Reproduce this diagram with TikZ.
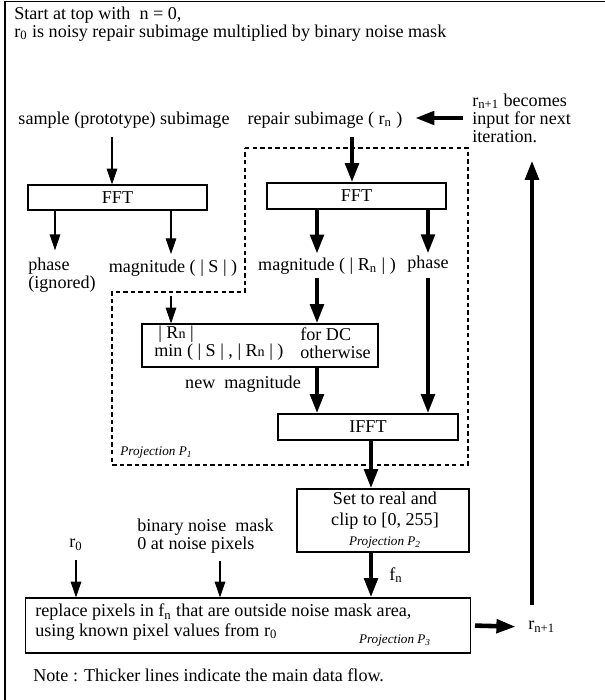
\documentclass[tikz,border=0pt]{standalone}
\usepackage{fontspec}
\setmainfont{Liberation Serif}
\usetikzlibrary{arrows.meta}
\tikzset{
  lbl/.style={inner sep=0pt, font=\fontsize{10.3}{10.3}\selectfont},
  box/.style={draw, line width=0.6pt, inner sep=0pt, font=\fontsize{10.3}{10.3}\selectfont},
  proj/.style={inner sep=0pt, font=\fontsize{7.5}{8}\selectfont\itshape},
  region/.style={line width=0.6pt, dash pattern=on 2.5pt off 1.8pt},
  thinarr/.style={line width=0.6pt, -{Triangle[length=9pt,width=6pt]}},
  thickarr/.style={line width=2.6pt, -{Triangle[length=11pt,width=7.5pt]}},
}
\begin{document}
\begin{tikzpicture}[x=0.02cm, y=-0.02cm]
  \useasboundingbox (0,0) rectangle (605,700);
  \draw[line width=0.8pt] (5,700) -- (5,1.5) -- (605,1.5);

  % columns of the arrows
  \foreach \n/\x in {cA/112,cB/55,cC/171,cE/220,cF/352,cG/317,cH/428,cI/371}
    \coordinate (\n) at (\x,0);
  \coordinate (loop) at (532,605);

  % header
  \node[lbl, anchor=west] (head1) at (14,15) {Start at top with\ \ n = 0,};
  \node[lbl, anchor=west] (head2) at (14,33) {r\textsubscript{0} is noisy repair subimage multiplied by binary noise mask};

  % inputs
  \node[lbl] (sample) at (124,120) {sample (prototype) subimage};
  \node[lbl] (repair) at (325,120) {repair subimage ( r\textsubscript{n} )};
  \node[lbl, anchor=west, align=left] (becomes) at (472,118) {r\textsubscript{n+1} becomes\\input for next\\iteration.};

  % projection P1 region
  \draw[region] (245,148) -- (468,148) -- (468,465) -- (112,465) -- (112,292) -- (245,292) -- cycle;
  \node[proj, anchor=west] (projP1) at (120,453) {Projection P\textsubscript{1}};

  % FFT of sample
  \node[box, minimum width=3.58cm, minimum height=0.5cm] (fftL) at (117.5,197.5) {FFT};
  \node[lbl, anchor=west, align=left, font=\fontsize{10.3}{8}\selectfont] (phaseL) at (28,275) {phase\\(ignored)};
  \node[lbl] (magS) at (173,268) {magnitude ( | S | )};

  % FFT of repair
  \node[box, minimum width=3.58cm, minimum height=0.52cm] (fftR) at (356.5,196) {FFT};
  \node[lbl] (magR) at (327,266) {magnitude ( | R\textsubscript{n} | )};
  \node[lbl] (phaseR) at (428,264) {phase};

  % magnitude rule
  \node[box, minimum width=4.72cm, minimum height=0.86cm] (comb) at (260,345.5) {};
  \node[lbl, anchor=west] (ruleA) at (158,334) {| R{\footnotesize n} |};
  \node[lbl, anchor=west] (ruleB) at (154,352) {min ( | S | , | R{\footnotesize n} | )};
  \node[lbl, anchor=west] (forDC) at (300,334) {for DC};
  \node[lbl, anchor=west] (other) at (300,352) {otherwise};
  \node[lbl] (newmag) at (243,384) {new\ \ magnitude};

  \node[box, minimum width=3.6cm, minimum height=0.52cm] (ifft) at (368,427) {IFFT};

  % projection P2
  \node[box, minimum width=3.44cm, minimum height=1.26cm] (p2) at (383,520.5) {};
  \node[lbl, align=center, font=\fontsize{10.3}{12}\selectfont] (p2txt) at (385,511) {Set to real and\\clip to [0, 255]};
  \node[proj] (projP2) at (385,543) {Projection P\textsubscript{2}};
  \node[lbl, anchor=west] (fn) at (389,575) {f\textsubscript{n}};

  % projection P3
  \node[lbl] (r0) at (76,545) {r\textsubscript{0}};
  \node[lbl, anchor=west, align=left] (mask) at (137,536) {binary noise\ \ mask\\0 at noise pixels};
  \node[box, minimum width=8.92cm, minimum height=1.1cm] (p3) at (248,625.5) {};
  \node[lbl, anchor=west, align=left, font=\fontsize{10.3}{11.3}\selectfont] (p3txt) at (35,622) {replace pixels in f\textsubscript{n} that are outside noise mask area,\\using known pixel values from r\textsubscript{0}};
  \node[proj] (projP3) at (395,641) {Projection P\textsubscript{3}};
  \node[lbl, anchor=west] (rn1) at (528,627) {r\textsubscript{n+1}};

  \node[lbl, anchor=west] (note) at (33,675) {Note : Thicker lines indicate the main data flow.};

  % thin arrows
  \draw[thinarr, shorten <=5pt] (sample.south -| cA) -- (fftL.north -| cA);
  \draw[thinarr, shorten >=4pt] (fftL.south -| cB) -- (phaseL.north -| cB);
  \draw[thinarr, shorten >=3pt] (fftL.south -| cC) -- (magS.north -| cC);
  \draw[thinarr, shorten <=11pt] (magS.south -| cC) -- (comb.north -| cC);
  \draw[thinarr, shorten <=5pt] (r0.south) -- (r0.south |- p3.north);
  \draw[thinarr, shorten <=4pt] (mask.south -| cE) -- (p3.north -| cE);

  % thick arrows (main data flow)
  \draw[thickarr, shorten <=5pt, shorten >=7pt] (becomes.west) -- (becomes.west -| repair.east);
  \draw[thickarr, shorten <=5pt] (repair.south -| cF) -- (fftR.north -| cF);
  \draw[thickarr, shorten >=2pt] (fftR.south -| cG) -- (magR.north -| cG);
  \draw[thickarr, shorten >=1pt] (fftR.south -| cH) -- (phaseR.north -| cH);
  \draw[thickarr, shorten <=2pt] (magR.south -| cG) -- (comb.north -| cG);
  \draw[thickarr, shorten <=3pt] (phaseR.south -| cH) -- (ifft.north -| cH);
  \draw[thickarr] (comb.south -| cG) -- (ifft.north -| cG);
  \draw[thickarr] (ifft.south -| cI) -- (p2.north -| cI);
  \draw[thickarr] (p2.south -| cI) -- (p3.north -| cI);
  \draw[thickarr, shorten <=2pt, shorten >=7pt] (p3.east) -- (rn1.west);
  \draw[thickarr, shorten >=10pt] (loop) -- (loop |- becomes.south);
\end{tikzpicture}
\end{document}
